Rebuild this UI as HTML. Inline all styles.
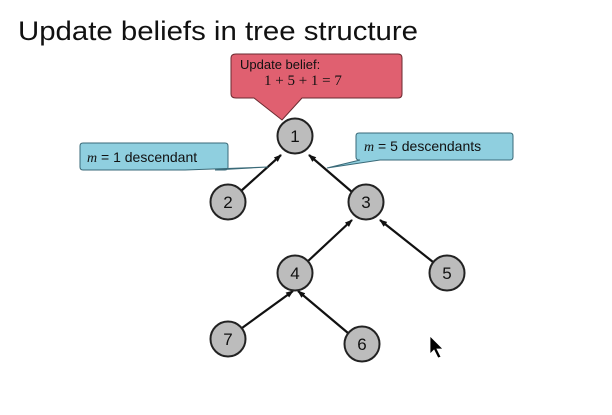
<!DOCTYPE html>
<html><head><style>html,body{margin:0;padding:0;background:#fff;}svg{display:block}</style></head>
<body>
<svg width="612" height="415" viewBox="0 0 612 415" xmlns="http://www.w3.org/2000/svg" font-family="Liberation Sans, sans-serif">
<defs><marker id="a" markerWidth="8" markerHeight="8" refX="7" refY="4" orient="auto" markerUnits="userSpaceOnUse"><path d="M0,1 L8,4 L0,7 z" fill="#111"/></marker></defs>
<text x="18" y="40" font-size="27" fill="#111" textLength="400" lengthAdjust="spacingAndGlyphs">Update beliefs in tree structure</text>
<g stroke="#111" stroke-width="2.2" marker-end="url(#a)">
<line x1="241" y1="191" x2="281" y2="155"/>
<line x1="352" y1="192" x2="309" y2="155"/>
<line x1="307" y1="262" x2="352" y2="220"/>
<line x1="433" y1="262" x2="380" y2="220"/>
<line x1="242" y1="328" x2="293" y2="291"/>
<line x1="348" y1="333" x2="298" y2="291"/>
</g>
<g fill="#bcbcbc" stroke="#222" stroke-width="2">
<circle cx="295" cy="136" r="17.5"/><circle cx="228" cy="202" r="17.5"/><circle cx="366" cy="202" r="17.5"/>
<circle cx="295" cy="273" r="17.5"/><circle cx="447" cy="273" r="17.5"/><circle cx="228" cy="339" r="17.5"/><circle cx="362" cy="344" r="17.5"/>
</g>
<g font-size="17" fill="#111" text-anchor="middle">
<text x="295" y="142">1</text><text x="228" y="208">2</text><text x="366" y="208">3</text><text x="295" y="279">4</text><text x="447" y="279">5</text><text x="228" y="345">7</text><text x="362" y="350">6</text>
</g>
<path d="M236,54 H398 Q402,54 402,58 V94 Q402,98 398,98 H302 L282,120 L254,98 H236 Q231,98 231,94 V58 Q231,54 236,54 Z" fill="#e06070" stroke="#6a2a30" stroke-width="1"/>
<text x="240" y="69" font-size="13" fill="#111">Update belief:</text>
<text x="264" y="85" font-size="15" fill="#111" font-family="Liberation Serif, serif">1 + 5 + 1  = 7</text>
<path d="M83,143 H225 Q228,143 228,146 V167 Q228,170 225,170 H215 L268,167 L185,170 H83 Q80,170 80,167 V146 Q80,143 83,143 Z" fill="#8fcfdf" stroke="#3a6a78" stroke-width="1"/>
<text x="87" y="162" font-size="14" fill="#111"><tspan font-family="Liberation Serif, serif" font-style="italic">m</tspan> = 1 descendant</text>
<path d="M359,133 H510 Q513,133 513,136 V157 Q513,160 510,160 H380 L327,168 L360,160 H359 Q356,160 356,157 V136 Q356,133 359,133 Z" fill="#8fcfdf" stroke="#3a6a78" stroke-width="1"/>
<text x="364" y="151" font-size="14" fill="#111"><tspan font-family="Liberation Serif, serif" font-style="italic">m</tspan> = 5 descendants</text>
<path d="M430,336 L430,354 L434,350 L438,358 L441,357 L437,349 L443,349 Z" fill="#000" stroke="#fff" stroke-width="0.8"/>
</svg>
</body></html>
